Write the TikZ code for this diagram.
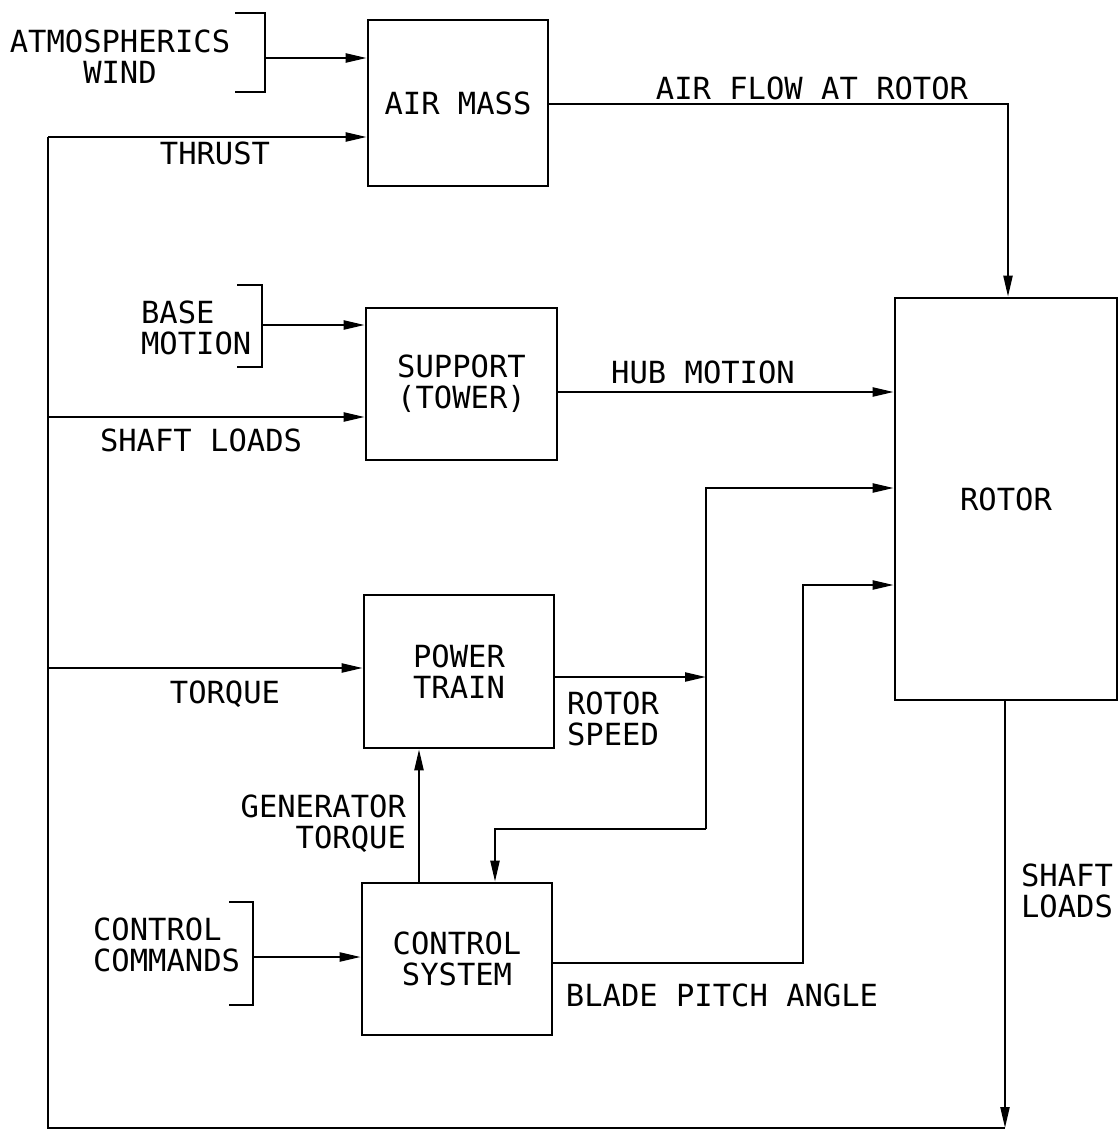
\documentclass[tikz,border=0pt]{standalone}
\usepackage{fontspec}
\newfontfamily\plotfont{DejaVu Sans Mono}
\usepackage{tikz}
\usetikzlibrary{arrows.meta}

\tikzset{
  block/.style={draw, line width=2.6pt, inner sep=0pt, align=center},
  arr/.style={-{Triangle[length=21pt,width=9pt]}},
  lbl/.style={inner sep=0pt, text depth=0pt}
}

\begin{document}
\begin{tikzpicture}[x=1pt, y=-1pt, line width=2.2pt, font=\plotfont\fontsize{30.5}{31}\selectfont]
  \useasboundingbox (0,0) rectangle (1119,1143);

  \node[block, minimum width=180, minimum height=166] (air) at (458,103) {AIR MASS};
  \node[block, minimum width=191, minimum height=152] (sup) at (461.5,384) {SUPPORT\\(TOWER)};
  \node[block, minimum width=190, minimum height=153] (power) at (459,671.5) {POWER\\TRAIN};
  \node[block, minimum width=190, minimum height=152] (ctrl) at (457,959) {CONTROL\\SYSTEM};
  \node[block, minimum width=222, minimum height=402] (rotor) at (1006,499) {ROTOR};

  \node[lbl, align=center] (atmtxt) at (120,57) {ATMOSPHERICS\\WIND};
  \node[lbl, align=left, anchor=west] (basetxt) at (140,328) {BASE\\MOTION};
  \node[lbl, align=left, anchor=west] (cmdtxt) at (92,945) {CONTROL\\COMMANDS};

  \draw (235,13) -- (265,13) -- (265,92) -- (235,92);
  \draw (237,285) -- (262,285) -- (262,367) -- (237,367);
  \draw (229,902) -- (253,902) -- (253,1005) -- (229,1005);

  \coordinate (atmbr) at (265,58);
  \coordinate (basebr) at (262,325);
  \coordinate (cmdbr) at (253,957);
  \draw[arr] (atmbr) -- (atmbr -| air.west);
  \draw[arr] (basebr) -- (basebr -| sup.west);
  \draw[arr] (cmdbr) -- (cmdbr -| ctrl.west);

  \coordinate (tl) at (48,137);
  \coordinate (bl) at (48,1128);
  \coordinate (br) at (1005,1128);
  \coordinate (jshaft) at (48,417);
  \coordinate (jtorque) at (48,668);
  \draw[arr] (br |- rotor.south) -- (br);
  \draw (br) -- (bl) -- (tl);
  \draw[arr] (tl) -- (tl -| air.west);
  \draw[arr] (jshaft) -- (jshaft -| sup.west);
  \draw[arr] (jtorque) -- (jtorque -| power.west);

  \coordinate (flow) at (1008,104);
  \draw[arr] (flow -| air.east) -- (flow) -- (flow |- rotor.north);
  \draw[arr] ([yshift=-8pt]sup.east) -- ([yshift=-8pt]sup.east -| rotor.west);

  \coordinate (spd) at (706,677);
  \coordinate (spdtop) at (706,488);
  \coordinate (spdbot) at (706,829);
  \coordinate (ctlin) at (495,829);
  \draw[arr] (spd -| power.east) -- (spd);
  \draw[arr] (spdbot) -- (spdtop) -- (spdtop -| rotor.west);
  \draw[arr] (spdbot) -- (ctlin) -- (ctlin |- ctrl.north);

  \coordinate (gen) at (419,0);
  \draw[arr] (gen |- ctrl.north) -- (gen |- power.south);

  \coordinate (pitch) at (803,963);
  \coordinate (pitchtop) at (803,585);
  \draw[arr] (pitch -| ctrl.east) -- (pitch) -- (pitchtop) -- (pitchtop -| rotor.west);

  \node[lbl] (thrust) at (215,153) {THRUST};
  \node[lbl] (flowtxt) at (812,88) {AIR FLOW AT ROTOR};
  \node[lbl] (hubtxt) at (703,372) {HUB MOTION};
  \node[lbl] (shafttxt) at (201,440) {SHAFT LOADS};
  \node[lbl] (torquetxt) at (225,692) {TORQUE};
  \node[lbl, align=left, anchor=west] (spdtxt) at (566,719) {ROTOR\\SPEED};
  \node[lbl, align=right, anchor=east] (gentxt) at (407,822) {GENERATOR\\TORQUE};
  \node[lbl] (pitchtxt) at (722,995) {BLADE PITCH ANGLE};
  \node[lbl, align=left, anchor=west] (shaftout) at (1020,891) {SHAFT\\LOADS};
\end{tikzpicture}
\end{document}
